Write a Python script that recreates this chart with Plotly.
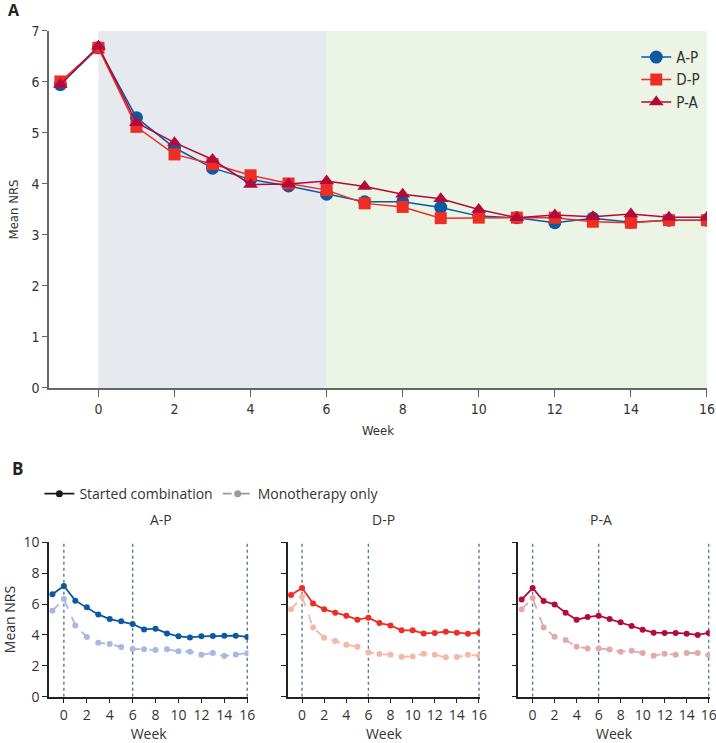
import plotly.graph_objects as go

# ---------------------------------------------------------------------------
# Panel A data: mean NRS by week, three sequences
weeks_a = list(range(-1, 17))
ap_a = [5.95, 6.67, 5.30, 4.71, 4.31, 4.09, 3.96, 3.80, 3.65, 3.65, 3.54, 3.37, 3.34, 3.24, 3.33, 3.25, 3.29, 3.29]
dp_a = [6.01, 6.67, 5.12, 4.58, 4.39, 4.17, 4.01, 3.88, 3.62, 3.55, 3.33, 3.34, 3.34, 3.34, 3.26, 3.24, 3.29, 3.29]
pa_a = [5.95, 6.70, 5.20, 4.81, 4.48, 3.99, 4.00, 4.06, 3.95, 3.80, 3.71, 3.50, 3.34, 3.39, 3.36, 3.41, 3.35, 3.35]

# Panel B data: started combination vs monotherapy only
weeks_b = list(range(-1, 17))
ap_comb = [6.63, 7.17, 6.22, 5.79, 5.33, 5.03, 4.88, 4.71, 4.36, 4.41, 4.10, 3.91, 3.84, 3.91, 3.93, 3.95, 3.95, 3.87]
ap_mono = [5.57, 6.33, 4.62, 3.87, 3.50, 3.41, 3.22, 3.09, 3.07, 3.02, 3.07, 2.94, 2.92, 2.72, 2.83, 2.63, 2.74, 2.81]
dp_comb = [6.59, 7.04, 6.03, 5.66, 5.44, 5.25, 4.99, 5.12, 4.77, 4.62, 4.30, 4.30, 4.10, 4.13, 4.21, 4.15, 4.08, 4.15]
dp_mono = [5.66, 6.48, 4.49, 3.82, 3.61, 3.37, 3.24, 2.87, 2.76, 2.72, 2.59, 2.61, 2.79, 2.72, 2.55, 2.57, 2.72, 2.66]
pa_comb = [6.29, 7.04, 6.20, 5.98, 5.44, 4.99, 5.16, 5.25, 5.03, 4.82, 4.58, 4.34, 4.15, 4.13, 4.13, 4.08, 4.00, 4.13]
pa_mono = [5.66, 6.39, 4.49, 3.89, 3.67, 3.24, 3.13, 3.13, 3.05, 2.92, 2.98, 2.83, 2.66, 2.79, 2.72, 2.83, 2.83, 2.68]

x_ticks = [0, 2, 4, 6, 8, 10, 12, 14, 16]
ya_ticks = [0, 1, 2, 3, 4, 5, 6, 7]
yb_ticks = [0, 2, 4, 6, 8, 10]
phase_edges = [0, 6, 16]
b_titles = ["A-P", "D-P", "P-A"]
# ---------------------------------------------------------------------------

FONT_A = "DejaVu Sans Condensed, Liberation Sans Narrow, Open Sans, sans-serif"
FONT_B = "Open Sans, sans-serif"
BLUE, RED, DARKRED = "#0b58a3", "#ee2e24", "#b30a3c"
fig = go.Figure()

# panel A lines
fig.add_trace(go.Scatter(x=weeks_a, y=ap_a, name="A-P", mode="lines+markers",
                         line=dict(color=BLUE, width=1.5),
                         marker=dict(symbol="circle", size=13, color=BLUE),
                         xaxis="x", yaxis="y", legend="legend"))
fig.add_trace(go.Scatter(x=weeks_a, y=dp_a, name="D-P", mode="lines+markers",
                         line=dict(color=RED, width=1.5),
                         marker=dict(symbol="square", size=12, color=RED),
                         xaxis="x", yaxis="y", legend="legend"))
fig.add_trace(go.Scatter(x=weeks_a, y=pa_a, name="P-A", mode="lines+markers",
                         line=dict(color=DARKRED, width=1.5),
                         marker=dict(symbol="triangle-up", size=13, color=DARKRED),
                         xaxis="x", yaxis="y", legend="legend"))

# shaded phases in panel A
fig.add_shape(type="rect", xref="x", yref="y", x0=phase_edges[0], x1=phase_edges[1], y0=0, y1=7,
              fillcolor="#e6e9ed", line_width=0, layer="below")
fig.add_shape(type="rect", xref="x", yref="y", x0=phase_edges[1], x1=phase_edges[2], y0=0, y1=7,
              fillcolor="#ecf4e6", line_width=0, layer="below")

# panel B
b_series = [(ap_comb, ap_mono, BLUE, "#a9b8e2"),
            (dp_comb, dp_mono, RED, "#f6b8a6"),
            (pa_comb, pa_mono, DARKRED, "#e2a9aa")]
for i, (comb, mono, c1, c2) in enumerate(b_series):
    xa, ya = "x%d" % (i + 2), "y%d" % (i + 2)
    fig.add_trace(go.Scatter(x=weeks_b, y=mono, mode="lines+markers", showlegend=False,
                             line=dict(color=c2, width=1.8, dash="dash"),
                             marker=dict(size=6, color=c2), xaxis=xa, yaxis=ya))
    fig.add_trace(go.Scatter(x=weeks_b, y=comb, mode="lines+markers", showlegend=False,
                             line=dict(color=c1, width=1.8),
                             marker=dict(size=6, color=c1), xaxis=xa, yaxis=ya))
    for w in phase_edges:
        fig.add_shape(type="line", xref=xa, yref=ya, x0=w, x1=w, y0=0, y1=10,
                      line=dict(color="#5b7884", width=1.4, dash="dot"), layer="below")

# legend entries for panel B
fig.add_trace(go.Scatter(x=[None], y=[None], name="Started combination", mode="lines+markers",
                         line=dict(color="#1a1a1a", width=1.8), marker=dict(size=7, color="#1a1a1a"),
                         xaxis="x2", yaxis="y2", legend="legend2"))
fig.add_trace(go.Scatter(x=[None], y=[None], name="Monotherapy only", mode="lines+markers",
                         line=dict(color="#9b9b9b", width=1.8, dash="dash"), marker=dict(size=7, color="#9b9b9b"),
                         xaxis="x2", yaxis="y2", legend="legend2"))

ax_common = dict(showgrid=False, zeroline=False, showline=True, ticks="outside",
                 automargin=False, ticklabeloverflow="allow")
fig.update_layout(
    width=716, height=743, margin=dict(l=0, r=0, t=0, b=0, autoexpand=False),
    paper_bgcolor="white", plot_bgcolor="rgba(0,0,0,0)",
    font=dict(family=FONT_A, size=13, color="#333"),
    xaxis=dict(domain=[0.0684, 0.9874], range=[-1.3, 16], tickvals=x_ticks, ticklen=7,
               linecolor="#666", tickcolor="#666", linewidth=1.5, tickfont=dict(size=14),
               title=dict(text="Week", font=dict(size=13), standoff=10), anchor="y", **ax_common),
    yaxis=dict(domain=[0.4778, 0.9583], range=[0, 7], tickvals=ya_ticks, ticklen=5,
               linecolor="#666", tickcolor="#666", linewidth=1.5, tickfont=dict(size=14),
               title=dict(text="Mean NRS", font=dict(size=13), standoff=10), anchor="x", **ax_common),
    legend=dict(x=0.985, y=0.945, xanchor="right", yanchor="top", bgcolor="rgba(0,0,0,0)",
                font=dict(size=15), tracegroupgap=0, itemwidth=30),
    legend2=dict(orientation="h", x=0.055, y=0.335, xanchor="left", yanchor="middle",
                 bgcolor="rgba(0,0,0,0)", font=dict(size=14, family=FONT_B), itemwidth=30),
)

b_domains = [[0.0684, 0.3469], [0.4018, 0.6705], [0.7239, 0.9913]]
for i, dom in enumerate(b_domains):
    n = i + 2
    fig.layout["xaxis%d" % n] = dict(domain=dom, range=[-1.3, 16.1], tickvals=x_ticks, anchor="y%d" % n,
                                      linecolor="#222", tickcolor="#222", linewidth=1.5, ticklen=5,
                                      tickfont=dict(size=14, family=FONT_B),
                                      title=dict(text="Week", font=dict(size=14, family=FONT_B), standoff=6),
                                      **ax_common)
    fig.layout["yaxis%d" % n] = dict(domain=[0.0623, 0.2701], range=[0, 10], tickvals=yb_ticks,
                                      anchor="x%d" % n, linecolor="#222", tickcolor="#222", linewidth=1.5,
                                      showticklabels=(i == 0), ticklen=5,
                                      tickfont=dict(size=14, family=FONT_B),
                                      title=dict(text="Mean NRS" if i == 0 else "",
                                                 font=dict(size=14, family=FONT_B), standoff=6),
                                      **ax_common)
    fig.add_annotation(text=b_titles[i], xref="paper", yref="paper", x=(dom[0] + dom[1] - 0.0015) / 2,
                       y=1 - 519 / 743, yanchor="middle", showarrow=False,
                       font=dict(size=14, family=FONT_B, color="#333"))

fig.add_annotation(text="<b>A</b>", xref="paper", yref="paper", x=0.008, y=1 - 10 / 743,
                   xanchor="left", yanchor="middle", showarrow=False, font=dict(size=16, color="#222", family=FONT_B))
fig.add_annotation(text="<b>B</b>", xref="paper", yref="paper", x=0.014, y=1 - 468 / 743,
                   xanchor="left", yanchor="middle", showarrow=False, font=dict(size=17, color="#222", family=FONT_B))

fig.write_html("out.html", config={"displayModeBar": False},
               post_script="document.body.style.margin='0';")
